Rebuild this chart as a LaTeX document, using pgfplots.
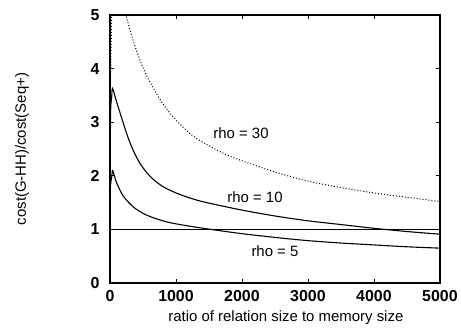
\documentclass[border=0pt]{standalone}
\usepackage{pgfplots}
\pgfplotsset{compat=1.18}
\usepackage{fontspec}
\setmainfont{Liberation Sans}
\begin{document}
\begin{tikzpicture}
\begin{axis}[
  name=ax,
  scale only axis,
  width=330bp, height=268bp,
  xmin=0, xmax=5000, ymin=0, ymax=5,
  xtick={0,1000,2000,3000,4000,5000},
  ytick={0,1,2,3,4,5},
  scaled x ticks=false,
  /pgf/number format/assume math mode=true,
  /pgf/number format/set thousands separator={},
  tick label style={font=\fontsize{16}{17}\selectfont\bfseries},
  tick align=inside,
  major tick length=4bp,
  axis line style={line width=1.1pt},
  every tick/.style={black, line width=0.8pt},
  xticklabel style={yshift=-4bp},
  yticklabel style={xshift=-7bp},
  xlabel={ratio of relation size to memory size},
  ylabel={cost(G-HH)/cost(Seq+)},
  label style={font=\fontsize{15}{16}\selectfont},
  xlabel style={at={(axis description cs:0.533,-0.13)}, anchor=center},
  ylabel style={at={(axis description cs:-0.267,0.5)}, anchor=center},
  clip=true,
]
% horizontal reference line
\addplot[black, line width=0.7pt] coordinates {(0,1) (5000,1)};
% rho = 5
\addplot[black, line width=1.1pt, smooth] coordinates {
(1,1.5) (5,1.75) (15,1.9) (30,2.0) (41,2.1) (100,1.87) (202,1.62) (353,1.42)
(500,1.30) (650,1.22) (859,1.14) (1061,1.09) (1364,1.03) (1700,0.97) (2000,0.92)
(2500,0.85) (3000,0.79) (3500,0.745) (4000,0.71) (4500,0.675) (5000,0.65)};
% rho = 10
\addplot[black, line width=1.1pt, smooth] coordinates {
(1,1.5) (5,2.8) (12,3.3) (25,3.45) (38,3.63) (100,3.38) (192,3.02) (272,2.72)
(353,2.47) (450,2.24) (550,2.07) (650,1.94) (800,1.80) (1000,1.68) (1250,1.57)
(1500,1.49) (2000,1.36) (2500,1.25) (3000,1.16) (3500,1.09) (4000,1.02)
(4500,0.96) (5000,0.91)};
% rho = 30
\addplot[black, line width=1.0pt, dotted, smooth] coordinates {
(1,1.6) (5,3.4) (10,3.8) (20,4.6) (60,6.5) (150,5.6) (200,5.25) (242,5.0)
(300,4.73) (400,4.34) (500,4.02) (600,3.76) (800,3.345) (1000,3.04) (1250,2.75)
(1500,2.56) (1750,2.40) (2000,2.28) (2500,2.07) (3000,1.90) (3500,1.78)
(4000,1.68) (4500,1.60) (5000,1.52)};
\node[font=\fontsize{15}{16}\selectfont] at (axis cs:1985,2.8) {rho = 30};
\node[font=\fontsize{15}{16}\selectfont] at (axis cs:2197,1.6) {rho = 10};
\node[font=\fontsize{15}{16}\selectfont] at (axis cs:2500,0.6) {rho = 5};
\end{axis}
\path (ax.south west) ++(-110bp,-47bp);
\path (ax.north east) ++(21bp,15bp);
\end{tikzpicture}
\end{document}
